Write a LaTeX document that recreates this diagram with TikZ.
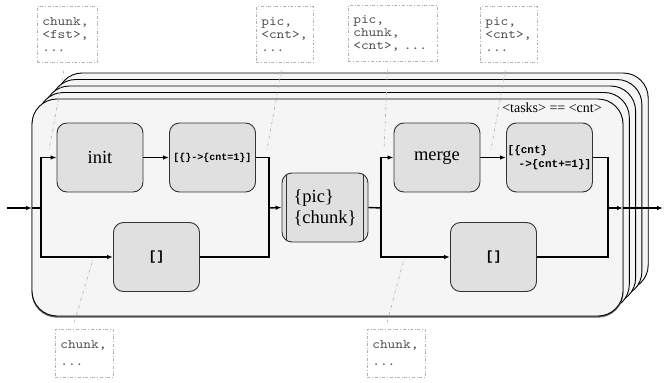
\documentclass[tikz,border=0pt]{standalone}
\usepackage{fontspec}
\setmainfont{Liberation Serif}
\newfontfamily\codefont{Liberation Mono}[UprightFont=*\space Bold]
\newfontfamily\notefont{lmmono10-regular.otf}[FakeStretch=1.13]
\usetikzlibrary{arrows.meta,calc}
\begin{document}
\begin{tikzpicture}[x=1pt,y=-1pt,
  box/.style={draw=black!80, line width=0.9pt, fill=black!12, rounded corners=10pt,
    minimum width=86pt, minimum height=69pt, inner sep=0pt, align=center},
  layer/.style={draw=black, line width=0.9pt, fill=black!4, rounded corners=25pt},
  flow/.style={line width=1.4pt, -{Latex[length=6pt,width=4.5pt]}},
  wire/.style={line width=1.4pt},
  note/.style={draw=black!30, dash dot, line width=0.6pt,
    font=\fontsize{13}{13}\notefont, text=black!70, align=left,
    inner xsep=5pt, inner ysep=0pt, anchor=north west},
  noteline/.style={draw=black!30, dash dot, line width=0.6pt},
  big/.style={font=\fontsize{18.5}{21}\selectfont},
]
\useasboundingbox (0,0) rectangle (665,383);
% stacked layers
\foreach \k in {4,3,2,1}{
  \draw[layer] (32+6.3*\k,99-6.5*\k) rectangle (623+6.3*\k,316-6.5*\k);
}
\draw[layer, draw=black!60, fill=black!60] (32,100.2) rectangle (623,317.2);
\draw[layer] (32,99) rectangle (623,316);

\node[font=\fontsize{14}{16}\selectfont] (tl) at (552,108) {<tasks> == <cnt>};

% nodes
\node[box, big] (init) at (100,157.5) {init};
\node[box, font=\fontsize{10}{12}\codefont] (c1) at (212.5,157.5) {[\{\}->\{cnt=1\}]};
\node[box, font=\fontsize{13.3}{14}\codefont] (e1) at (156.5,257) {[]};
\node[box, big, align=left] (pic) at (325,207.5) {\{pic\}\\\{chunk\}};
\draw[draw=black!80, line width=0.9pt] ($(pic.north west)+(5,1.3)$) -- ($(pic.south west)+(5,-1.3)$);
\draw[draw=black!80, line width=0.9pt] ($(pic.north east)+(-5,1.3)$) -- ($(pic.south east)+(-5,-1.3)$);
\node[box, big] (merge) at (437,157.5) {merge};
\node[box, font=\fontsize{11}{13.5}\codefont, align=left] (cinc) at (549.5,157.5) {[\{cnt\}\\\hspace*{11pt}->\{cnt+=1\}]};
\node[box, font=\fontsize{13.3}{14}\codefont] (e2) at (493.5,257) {[]};

% connectors
\coordinate (in) at (7,208);
\coordinate (fe) at (32,208);
\coordinate (j1) at (41,208);
\coordinate (j2) at (269,208);
\coordinate (j3) at (381,208);
\coordinate (j4) at (608,208);
\coordinate (fe2) at (623,208);
\coordinate (out) at (663,208);
\draw[flow] (in) -- (fe);
\draw[wire] (fe) -- (j1);
\draw[flow] (j1) |- (init.west);
\draw[flow] (j1) |- (e1.west);
\draw[flow] (init) -- (c1);
\draw[wire] (c1.east) -| (j2);
\draw[wire] (e1.east) -| (j2);
\draw[flow] (j2) -- (pic.west);
\draw[wire] (pic.east) -- (j3);
\draw[flow] (j3) |- (merge.west);
\draw[flow] (j3) |- (e2.west);
\draw[flow] (merge) -- (cinc);
\draw[wire] (cinc.east) -| (j4);
\draw[wire] (e2.east) -| (j4);
\draw[flow] (j4) -- (fe2);
\draw[flow] (fe2) -- (out);

% notes
\node[note, text width=50pt, minimum height=56pt] (n1) at (37,6) {chunk,\\<fst>,\\...};
\node[note, text width=47pt, minimum height=56pt] (n2) at (256,6) {pic,\\<cnt>,\\...};
\node[note, text width=79pt, minimum height=56pt] (n3) at (348,5) {pic,\\chunk,\\<cnt>, ...};
\node[note, text width=47pt, minimum height=56pt] (n4) at (480,6) {pic,\\<cnt>,\\...};
\node[note, text width=48pt, minimum height=48pt, font=\fontsize{13}{17}\notefont] (n5) at (55,329) {chunk,\\...};
\node[note, text width=48pt, minimum height=48pt, font=\fontsize{13}{17}\notefont] (n6) at (367,329) {chunk,\\...};

\coordinate (a1) at (49,150);
\coordinate (a2) at (267,150);
\coordinate (a3) at (384,150);
\coordinate (a4) at (491,150);
\coordinate (a5) at (93,259);
\coordinate (a6) at (404,259);
\draw[noteline, shorten <=8pt] ($(n1.south)+(-2,0)$) -- (a1);
\draw[noteline, shorten <=8pt] ($(n2.south)+(-2,0)$) -- (a2);
\draw[noteline, shorten <=8pt] ($(n3.south)+(-5,0)$) -- (a3);
\draw[noteline, shorten <=8pt] ($(n4.south)+(-2,0)$) -- (a4);
\draw[noteline, shorten <=7pt] ($(n5.north)+(-12,0)$) -- (a5);
\draw[noteline, shorten <=7pt] ($(n6.north)+(-11,0)$) -- (a6);
\end{tikzpicture}
\end{document}
